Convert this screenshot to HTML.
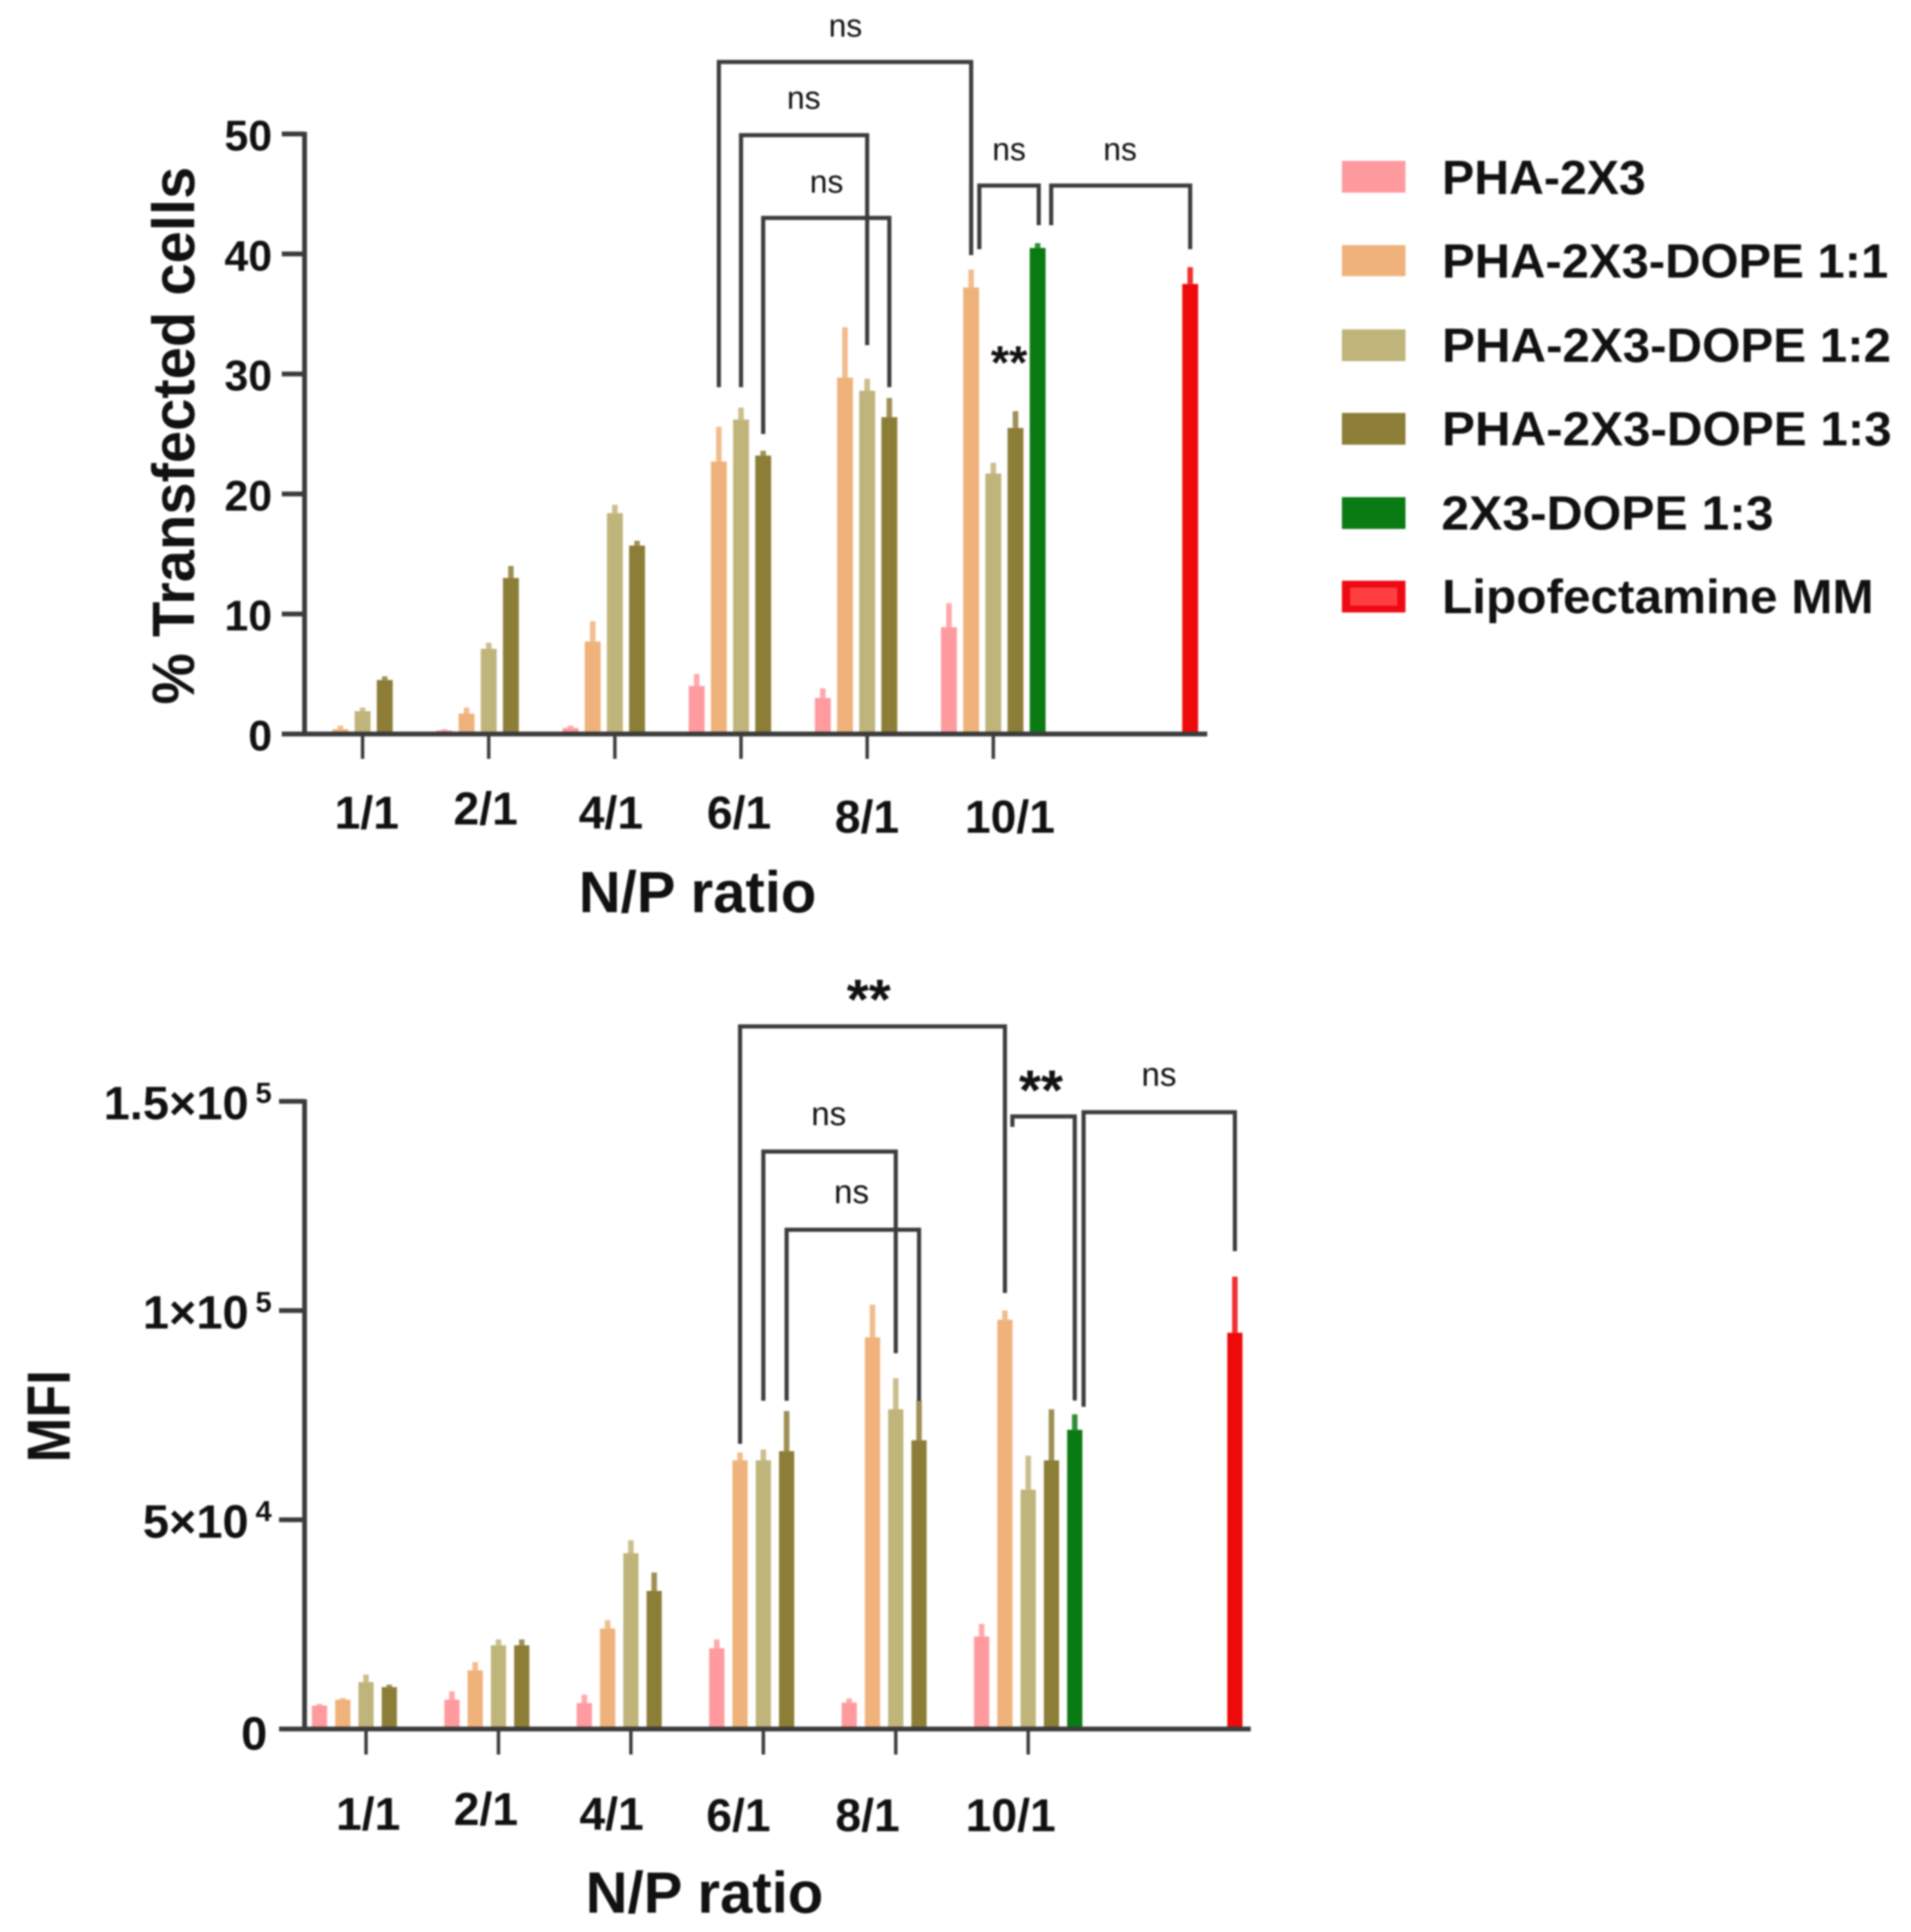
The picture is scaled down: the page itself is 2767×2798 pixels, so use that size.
<!DOCTYPE html>
<html lang="en">
<head>
<meta charset="utf-8">
<title>Transfection efficiency and MFI by N/P ratio</title>
<style>
html,body{margin:0;padding:0;background:#fff;}
#figure{display:block;width:2767px;height:2798px;filter:blur(1.2px);}
text{font-family:"Liberation Sans",Arial,sans-serif;fill:#111;}
.b{font-weight:700;}
</style>
</head>
<body>
<svg id="figure" xmlns="http://www.w3.org/2000/svg" width="2767" height="2798" viewBox="0 0 2767 2798">
  <rect x="0" y="0" width="2767" height="2798" fill="#fff"/>

  <g id="top-chart"></g>
  <g id="bottom-chart"></g>

  <text class="b" transform="translate(281,631) rotate(-90)" text-anchor="middle" font-size="86" textLength="779" lengthAdjust="spacingAndGlyphs">% Transfected cells</text>
  <text class="b" x="1010" y="1321" text-anchor="middle" font-size="84" textLength="344" lengthAdjust="spacingAndGlyphs">N/P ratio</text>
  <text class="b" transform="translate(101,2051) rotate(-90)" text-anchor="middle" font-size="88" textLength="134" lengthAdjust="spacingAndGlyphs">MFI</text>
  <text class="b" x="1020" y="2770" text-anchor="middle" font-size="84" textLength="344" lengthAdjust="spacingAndGlyphs">N/P ratio</text>

  <g>
    <g>
      <rect x="1943" y="233" width="92" height="46" fill="#ff9a9e"/>
      <text class="b" x="2088" y="281" font-size="70" textLength="295" lengthAdjust="spacingAndGlyphs">PHA-2X3</text>
    </g>
    <g>
      <rect x="1943" y="355" width="92" height="45" fill="#efb27a"/>
      <text class="b" x="2088" y="402" font-size="70" textLength="646" lengthAdjust="spacingAndGlyphs">PHA-2X3-DOPE 1:1</text>
    </g>
    <g>
      <rect x="1943" y="477" width="92" height="46" fill="#bfb47a"/>
      <text class="b" x="2088" y="524" font-size="70" textLength="650" lengthAdjust="spacingAndGlyphs">PHA-2X3-DOPE 1:2</text>
    </g>
    <g>
      <rect x="1943" y="598" width="92" height="46" fill="#8c7d37"/>
      <text class="b" x="2088" y="645" font-size="70" textLength="651" lengthAdjust="spacingAndGlyphs">PHA-2X3-DOPE 1:3</text>
    </g>
    <g>
      <rect x="1943" y="720" width="92" height="46" fill="#0a7a12"/>
      <text class="b" x="2087" y="767" font-size="70" textLength="481" lengthAdjust="spacingAndGlyphs">2X3-DOPE 1:3</text>
    </g>
    <g>
      <rect x="1943" y="841" width="92" height="46" fill="#ee0a14"/>
      <rect x="1955" y="851" width="68" height="26" fill="#ff3f3f"/>
      <text class="b" x="2088" y="888" font-size="70" textLength="625" lengthAdjust="spacingAndGlyphs">Lipofectamine MM</text>
    </g>
  </g>
</svg>

<script>
const NS = 'http://www.w3.org/2000/svg';

/* ---- shared categories ---- */
const categories = ['1/1', '2/1', '4/1', '6/1', '8/1', '10/1'];
const seriesNames = ['pha-2x3', 'dope-1-1', 'dope-1-2', 'dope-1-3'];
const seriesColors = ['#ff9a9e', '#efb27a', '#bfb47a', '#8c7d37'];

/* ---- top chart values (% transfected cells) ---- */
const topPha = [0.1, 0.3, 0.5, 4.0, 3.0, 8.9];
const topPhaErr = [0.1, 0.1, 0.2, 1.0, 0.8, 2.0];
const topDope11 = [0.4, 1.7, 7.7, 22.7, 29.7, 37.2];
const topDope11Err = [0.3, 0.5, 1.7, 2.9, 4.2, 1.5];
const topDope12 = [1.9, 7.1, 18.4, 26.2, 28.6, 21.7];
const topDope12Err = [0.3, 0.5, 0.7, 1.0, 1.0, 0.9];
const topDope13 = [4.5, 13.0, 15.7, 23.2, 26.4, 25.5];
const topDope13Err = [0.3, 1.0, 0.4, 0.4, 1.6, 1.4];
const topGreen = 40.5;
const topGreenErr = 0.4;
const topRed = 37.5;
const topRedErr = 1.4;
const topTicks = [0, 10, 20, 30, 40, 50];
const topTickLabels = ['0', '10', '20', '30', '40', '50'];

/* ---- bottom chart values (MFI) ---- */
const botPha = [5600, 7000, 6200, 19300, 6300, 22100];
const botPhaErr = [400, 2000, 2000, 2100, 1000, 3000];
const botDope11 = [7000, 14000, 24000, 64200, 93600, 97800];
const botDope11Err = [400, 2000, 2000, 1900, 7800, 2200];
const botDope12 = [11200, 20000, 42000, 64200, 76400, 57200];
const botDope12Err = [1800, 1400, 3100, 2600, 7400, 8100];
const botDope13 = [10000, 20000, 33000, 66400, 69000, 64200];
const botDope13Err = [600, 1400, 4400, 9600, 9600, 12200];
const botGreen = 71500;
const botGreenErr = 3700;
const botRed = 94700;
const botRedErr = 13400;
const botTicks = [0, 50000, 100000, 150000];
const botTickMantissa = ['0', '5×10', '1×10', '1.5×10'];
const botTickExponent = ['', '4', '5', '5'];

/* ---- significance brackets: label, slot from/to, level, left end, right end, label slot, label value ---- */
const topBrackets = [
  ['ns', 16.07, 27.45, 56.0, 28.9, 39.9, 21.78, 58.8],
  ['ns', 17.07, 22.76, 49.9, 28.9, 32.4, 19.9, 52.8],
  ['ns', 18.07, 23.76, 43.0, 25.0, 28.9, 20.93, 45.8],
  ['ns', 27.82, 30.5, 45.7, 40.4, 42.4, 29.16, 48.5],
  ['ns', 31.06, 37.33, 45.7, 42.4, 40.4, 34.17, 48.5]
];
const topExtraLabels = [['**', 29.16, 31.5]];
const botBrackets = [
  ['**', 16.07, 27.45, 167900, 68150, 104200, 21.6, 176200],
  ['ns', 17.07, 22.76, 138000, 78450, 89800, 19.88, 146400],
  ['ns', 18.07, 23.76, 119300, 78450, 78450, 20.86, 127700],
  ['**', 27.77, 30.45, 146400, 143900, 78500, 29.0, 154500],
  ['ns', 30.83, 37.33, 147400, 77000, 114200, 34.07, 155800]
];
const botExtraLabels = [];

/* ---- category label nudges as drawn in the figure ---- */
const topCatLabelSlots = [0.19, 5.55, 11.2, 16.98, 22.75, 29.2];
const topCatLabelRows = [0, -6, 0, 0, 6, 6];
const botCatLabelSlots = [0.09, 5.15, 10.55, 16.0, 21.55, 27.7];
const botCatLabelRows = [-2, -9, -2, 0, 0, 0];

const SLOTS_PER_GROUP = 5.69;
const GREEN_SLOT_OFFSET = 2;
const RED_SLOT = 37.33;
const INK = '#3c3c3c';

function make(tag, attrs, parent) {
  const el = document.createElementNS(NS, tag);
  for (const k in attrs) el.setAttribute(k, attrs[k]);
  if (parent) parent.appendChild(el);
  return el;
}

function drawBar(parent, x, yFn, value, err, color, barW, name) {
  const yTop = yFn(value), yBase = yFn(0), yErr = yFn(value + err);
  const stem = make('line', {x1: x, x2: x, y1: yTop, y2: yErr, stroke: color, 'stroke-width': 8, 'stroke-opacity': 0.85}, parent);
  
  
  const bar = make('rect', {x: x - barW / 2, y: yTop, width: barW, height: yBase - yTop, fill: color}, parent);
  
  
}

function drawChart(cfg) {
  const root = document.getElementById(cfg.id);
  const xs = function (slot) { return cfg.x0 + slot * cfg.slot; };
  const groupSlot = function (i) { return i * SLOTS_PER_GROUP; };
  const y = cfg.y;

  cfg.series.forEach(function (vals, s) {
    vals.forEach(function (v, g) {
      const x = xs(groupSlot(g) + s - 2);
      drawBar(root, x, y, v, cfg.errors[s][g], seriesColors[s], cfg.barW, seriesNames[s] + '-' + categories[g].replace('/', '-'));
    });
  });
  drawBar(root, xs(groupSlot(5) + GREEN_SLOT_OFFSET), y, cfg.green, cfg.greenErr, '#0a7a12', cfg.barW, '2x3-dope-1-3');
  drawBar(root, xs(RED_SLOT), y, cfg.red, cfg.redErr, '#ee0a0a', cfg.barW, 'lipofectamine-mm');

  const yAxis = make('line', {x1: cfg.axisX, x2: cfg.axisX, y1: y(cfg.ticks[cfg.ticks.length - 1]) - 3, y2: y(0) + 3, stroke: INK, 'stroke-width': 7}, root);
  
  
  const xAxis = make('line', {x1: cfg.tickLeft, x2: cfg.axisEnd, y1: y(0), y2: y(0), stroke: INK, 'stroke-width': 7}, root);
  
  

  cfg.ticks.forEach(function (t) {
    const mark = make('line', {x1: cfg.tickLeft, x2: cfg.axisX, y1: y(t), y2: y(t), stroke: INK, 'stroke-width': 7}, root);
    
    
  });

  cfg.drawTickLabels(root, y);

  categories.forEach(function (c, i) {
    const mark = make('line', {x1: xs(groupSlot(i)), x2: xs(groupSlot(i)), y1: y(0), y2: y(0) + cfg.tickDown, stroke: INK, 'stroke-width': 5}, root);
    
    
    const label = make('text', {x: xs(cfg.catSlots[i]), y: cfg.catBaseline + cfg.catRows[i], 'text-anchor': 'middle', 'font-size': 67, 'class': 'b'}, root);
    label.textContent = c;
    
    
  });

  cfg.brackets.forEach(function (b) {
    const x1 = xs(b[1]), x2 = xs(b[2]);
    const path = make('path', {d: 'M' + x1 + ' ' + y(b[4]) + ' V' + y(b[3]) + ' H' + x2 + ' V' + y(b[5]), fill: 'none', stroke: '#3c3c3c', 'stroke-width': 6}, root);
    
    
    drawAnnotation(root, b[0], xs(b[6]), y(b[7]), cfg);
  });
  cfg.extraLabels.forEach(function (l) {
    drawAnnotation(root, l[0], xs(l[1]), y(l[2]), cfg);
  });
}

function drawAnnotation(root, str, x, yc, cfg) {
  const stars = str === '**';
  const fs = stars ? cfg.starSize : cfg.nsSize;
  const t = make('text', {x: x, y: yc + fs * (stars ? 0.48 : 0.26), 'text-anchor': 'middle', 'font-size': fs}, root);
  t.textContent = str;
  if (stars) t.setAttribute('class', 'b');
  
  
}

function topY(v) { return 1063 - v * 17.38; }
function botY(v) { return 2504 - v * 0.00606; }

drawChart({
  id: 'top-chart', x0: 525, slot: 32.1, barW: 23, y: topY,
  series: [topPha, topDope11, topDope12, topDope13],
  errors: [topPhaErr, topDope11Err, topDope12Err, topDope13Err],
  green: topGreen, greenErr: topGreenErr, red: topRed, redErr: topRedErr,
  ticks: topTicks, axisX: 441, tickLeft: 408, axisEnd: 1748, tickDown: 36,
  catSlots: topCatLabelSlots, catRows: topCatLabelRows, catBaseline: 1200,
  brackets: topBrackets, extraLabels: topExtraLabels, nsSize: 46, starSize: 68,
  drawTickLabels: function (root, y) {
    topTicks.forEach(function (t, i) {
      const l = make('text', {x: 394, y: y(t) + 24, 'text-anchor': 'end', 'font-size': 62, 'class': 'b'}, root);
      l.textContent = topTickLabels[i];
      
      
    });
  }
});

drawChart({
  id: 'bottom-chart', x0: 530, slot: 33.7, barW: 22, y: botY,
  series: [botPha, botDope11, botDope12, botDope13],
  errors: [botPhaErr, botDope11Err, botDope12Err, botDope13Err],
  green: botGreen, greenErr: botGreenErr, red: botRed, redErr: botRedErr,
  ticks: botTicks, axisX: 441, tickLeft: 404, axisEnd: 1811, tickDown: 37,
  catSlots: botCatLabelSlots, catRows: botCatLabelRows, catBaseline: 2652,
  brackets: botBrackets, extraLabels: botExtraLabels, nsSize: 48, starSize: 82,
  drawTickLabels: function (root, y) {
    botTicks.forEach(function (t, i) {
      const hasExp = botTickExponent[i] !== '';
      const l = make('text', {x: hasExp ? 360 : 387, y: y(t) + (hasExp ? 26 : 30), 'text-anchor': 'end', 'font-size': 68, 'class': 'b'}, root);
      l.textContent = botTickMantissa[i];
      
      
      if (hasExp) {
        const e = make('text', {x: 370, y: y(t) + 2, 'font-size': 42, 'class': 'b'}, root);
        e.textContent = botTickExponent[i];
        
        
      }
    });
  }
});
</script>
</body>
</html>
